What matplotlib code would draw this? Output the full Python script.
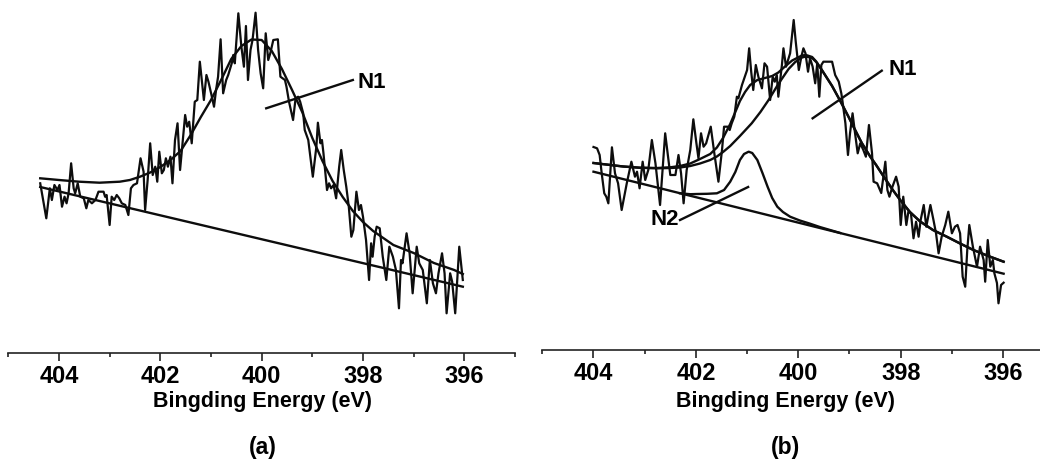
import matplotlib
matplotlib.use("Agg")
import matplotlib.pyplot as plt
from matplotlib.ticker import MultipleLocator

plt.rcParams['font.family'] = ['Liberation Sans', 'DejaVu Sans']

# ---------------- Panel (a) data (binding energy in eV, intensity in a.u.) ----------------
a_raw_E = [404.37, 404.25, 404.18, 404.14, 404.09, 404.03, 403.99, 403.94, 403.89, 403.85,
           403.81, 403.76, 403.71, 403.68, 403.63, 403.58, 403.51, 403.46, 403.42, 403.35,
           403.28, 403.22, 403.12, 403.09, 403.06, 403.00, 402.96, 402.91, 402.86, 402.81,
           402.76, 402.69, 402.63, 402.58, 402.53, 402.46, 402.39, 402.33, 402.30, 402.25,
           402.20, 402.15, 402.10, 402.06, 402.02, 401.97, 401.93, 401.89, 401.85, 401.80,
           401.76, 401.71, 401.66, 401.61, 401.51, 401.47, 401.43, 401.38, 401.32, 401.27,
           401.22, 401.14, 401.09, 401.05, 400.99, 400.94, 400.90, 400.86, 400.81, 400.76,
           400.70, 400.66, 400.59, 400.56, 400.53, 400.46, 400.40, 400.35, 400.31, 400.27,
           400.22, 400.18, 400.12, 400.07, 400.02, 399.97, 399.92, 399.87, 399.83, 399.77,
           399.68, 399.63, 399.54, 399.51, 399.46, 399.38, 399.33, 399.28, 399.24, 399.18,
           399.15, 399.08, 398.99, 398.92, 398.89, 398.84, 398.81, 398.78, 398.71, 398.67,
           398.63, 398.58, 398.53, 398.47, 398.43, 398.38, 398.33, 398.28, 398.23, 398.19,
           398.13, 398.08, 398.04, 398.00, 397.94, 397.88, 397.84, 397.81, 397.77, 397.73,
           397.67, 397.61, 397.54, 397.48, 397.41, 397.35, 397.29, 397.25, 397.22, 397.14,
           397.08, 397.02, 396.94, 396.89, 396.82, 396.74, 396.68, 396.62, 396.56, 396.51,
           396.44, 396.39, 396.35, 396.28, 396.24, 396.18, 396.10, 396.03]
a_raw_I = [169.4, 134.4, 164.4, 152.7, 167.7, 162.7, 167.7, 146.0, 156.0, 149.4,
           159.4, 189.4, 164.4, 159.4, 169.4, 156.0, 154.4, 144.4, 152.7, 149.4,
           152.7, 161.0, 161.0, 156.0, 157.7, 127.7, 156.0, 152.7, 157.7, 154.4,
           149.4, 147.7, 137.7, 164.4, 167.7, 169.4, 194.4, 181.0, 142.7, 172.7,
           209.4, 177.7, 186.0, 171.0, 201.0, 179.4, 182.7, 194.4, 186.0, 196.0,
           169.4, 212.7, 229.4, 182.7, 237.7, 226.0, 231.0, 209.4, 251.0, 252.7,
           291.0, 252.7, 277.7, 271.0, 257.7, 246.0, 262.7, 276.0, 313.4, 259.4,
           272.7, 277.7, 289.4, 297.7, 289.4, 339.4, 306.0, 286.0, 326.7, 272.7,
           302.7, 312.7, 340.0, 302.7, 279.4, 264.4, 319.4, 292.7, 299.4, 312.7,
           313.4, 276.0, 272.7, 266.0, 251.0, 232.7, 254.4, 256.0, 251.0, 239.4,
           222.7, 212.7, 176.0, 206.0, 230.0, 209.4, 212.7, 199.4, 162.7, 169.4,
           164.4, 167.7, 154.4, 186.0, 202.7, 182.7, 166.0, 146.0, 116.0, 122.7,
           161.0, 142.7, 147.7, 136.0, 112.7, 72.7, 109.4, 96.0, 116.0, 126.0,
           124.4, 96.0, 72.7, 106.0, 96.0, 82.7, 44.4, 92.7, 89.4, 119.4,
           99.4, 59.4, 106.0, 89.4, 82.7, 49.4, 92.7, 69.4, 59.4, 79.4,
           99.4, 79.4, 39.4, 79.4, 71.0, 39.4, 106.0, 72.7]

a_fit_E = [404.37, 404.0, 403.6, 403.2, 402.8, 402.6, 402.4, 402.2, 402.0, 401.8,
           401.6, 401.4, 401.2, 401.0, 400.8, 400.6, 400.4, 400.2, 400.0, 399.8,
           399.6, 399.4, 399.2, 399.0, 398.8, 398.6, 398.4, 398.2, 398.0, 397.8,
           397.6, 397.4, 397.0, 396.6, 396.2, 396.03]
a_fit_I = [174.4, 172.7, 171.0, 170.0, 171.0, 172.7, 176.0, 180.2, 185.7, 192.7,
           201.7, 217.7, 235.7, 252.7, 272.7, 293.7, 306.7, 313.2, 312.7, 301.7,
           283.7, 262.7, 240.7, 214.7, 191.7, 171.7, 155.7, 141.7, 130.7, 121.7,
           114.7, 107.7, 99.7, 89.7, 82.7, 78.7]

a_base_E = [404.37, 396.03]
a_base_I = [165.7, 66.0]

# ---------------- Panel (b) data ----------------
b_raw_E = [404.00, 403.93, 403.88, 403.84, 403.79, 403.75, 403.71, 403.64, 403.58, 403.52,
           403.45, 403.35, 403.26, 403.19, 403.15, 403.10, 403.04, 402.99, 402.93, 402.86,
           402.79, 402.70, 402.60, 402.50, 402.40, 402.34, 402.29, 402.24, 402.18, 402.11,
           402.05, 401.99, 401.95, 401.90, 401.85, 401.80, 401.71, 401.64, 401.56, 401.49,
           401.45, 401.38, 401.34, 401.30, 401.25, 401.20, 401.17, 401.10, 401.00, 400.96,
           400.92, 400.88, 400.83, 400.78, 400.71, 400.66, 400.61, 400.58, 400.55, 400.50,
           400.46, 400.42, 400.39, 400.32, 400.29, 400.24, 400.20, 400.16, 400.09, 400.05,
           399.99, 399.94, 399.90, 399.86, 399.81, 399.77, 399.72, 399.67, 399.63, 399.59,
           399.55, 399.51, 399.46, 399.34, 399.28, 399.21, 399.16, 399.14, 399.08, 399.03,
           398.99, 398.94, 398.90, 398.84, 398.79, 398.73, 398.68, 398.62, 398.56, 398.53,
           398.46, 398.38, 398.30, 398.26, 398.22, 398.17, 398.09, 398.04, 398.00, 397.95,
           397.89, 397.85, 397.80, 397.75, 397.70, 397.65, 397.61, 397.55, 397.50, 397.42,
           397.36, 397.31, 397.26, 397.20, 397.13, 397.07, 397.00, 396.94, 396.89, 396.84,
           396.79, 396.74, 396.70, 396.66, 396.59, 396.51, 396.45, 396.38, 396.35, 396.30,
           396.25, 396.20, 396.17, 396.12, 396.09, 396.04, 395.99]
b_raw_I = [203.0, 201.7, 195.0, 176.7, 156.7, 153.3, 146.7, 202.7, 176.7, 166.7,
           140.0, 166.7, 188.3, 173.3, 178.3, 161.7, 188.3, 170.0, 180.0, 210.0,
           186.7, 145.0, 216.7, 175.0, 175.0, 195.0, 176.7, 146.7, 180.0, 200.0,
           230.7, 206.7, 191.7, 216.7, 203.3, 206.7, 223.3, 196.7, 168.3, 200.0,
           223.3, 223.3, 220.0, 226.7, 233.3, 253.3, 251.7, 265.0, 280.0, 301.7,
           278.3, 260.0, 285.0, 273.3, 261.7, 286.7, 283.3, 266.7, 250.0, 273.3,
           268.3, 275.0, 253.3, 285.0, 301.7, 283.3, 290.0, 296.7, 330.0, 308.3,
           280.0, 293.3, 301.7, 296.7, 278.3, 291.7, 283.3, 266.7, 286.7, 253.3,
           285.0, 288.3, 288.3, 288.3, 275.0, 268.3, 256.7, 250.0, 226.7, 195.0,
           216.7, 236.7, 220.0, 196.7, 206.7, 200.0, 193.3, 225.0, 196.7, 168.3,
           166.7, 157.0, 188.3, 160.0, 153.3, 162.0, 173.3, 163.3, 125.0, 153.3,
           125.0, 138.3, 136.7, 111.7, 128.3, 113.3, 130.0, 145.0, 123.3, 145.0,
           130.0, 116.7, 96.7, 113.3, 125.0, 138.3, 116.7, 123.3, 125.0, 116.7,
           73.3, 63.3, 100.0, 125.0, 103.3, 83.3, 103.3, 90.0, 68.3, 110.0,
           83.3, 90.0, 76.7, 67.0, 46.7, 65.0, 67.3]

b_fit_E = [404.00, 403.67, 403.42, 403.09, 402.76, 402.50, 402.31, 402.11, 401.92, 401.72,
           401.59, 401.47, 401.33, 401.23, 401.14, 401.04, 400.94, 400.80, 400.65, 400.51,
           400.39, 400.26, 400.12, 399.93, 399.85, 399.73, 399.65, 399.54, 399.34, 399.18,
           399.02, 398.89, 398.76, 398.59, 398.48, 398.34, 398.14, 398.01, 397.82, 397.62,
           397.37, 397.10, 396.84, 396.58, 396.29, 395.99]
b_fit_I = [187.0, 185.0, 183.5, 182.3, 182.0, 182.7, 184.0, 186.5, 191.0, 196.0,
           202.5, 212.0, 226.0, 238.0, 249.0, 258.0, 265.0, 270.0, 272.0, 274.0,
           277.5, 283.5, 289.5, 294.5, 295.0, 293.0, 288.5, 280.0, 264.0, 249.0,
           233.3, 220.0, 207.0, 193.0, 185.0, 174.0, 159.0, 150.0, 138.0, 128.5,
           120.0, 113.3, 106.5, 100.0, 94.0, 88.3]

b_n1_E = [404.00, 403.67, 403.42, 403.09, 402.76, 402.50, 402.31, 402.11, 401.92, 401.72,
          401.59, 401.47, 401.33, 401.14, 400.91, 400.74, 400.58, 400.39, 400.19, 400.06,
          399.93, 399.85, 399.73, 399.65, 399.54, 399.34, 399.18, 399.02, 398.89, 398.76,
          398.59, 398.48, 398.34, 398.14, 398.01, 397.82, 397.62, 397.37, 397.10, 396.84,
          396.58, 396.29, 395.99]
b_n1_I = [187.0, 185.0, 183.5, 182.2, 181.7, 182.0, 182.5, 184.0, 186.5, 190.0,
          193.5, 198.0, 204.0, 214.0, 226.7, 238.0, 250.0, 266.0, 281.0, 288.0,
          292.5, 293.5, 292.0, 288.0, 280.0, 264.0, 249.0, 233.3, 220.0, 207.0,
          193.0, 185.0, 174.0, 159.0, 150.0, 138.0, 128.5, 120.0, 113.3, 106.5,
          100.0, 94.0, 88.3]

b_n2_E = [402.31, 402.11, 401.98, 401.78, 401.59, 401.45, 401.33, 401.23, 401.14, 401.06,
          400.97, 400.90, 400.80, 400.70, 400.60, 400.51, 400.41, 400.30, 400.16, 399.97,
          399.77, 399.58, 399.38, 399.18]
b_n2_I = [156.7, 155.8, 156.0, 156.2, 156.7, 160.0, 168.3, 178.0, 190.0, 196.0,
          198.3, 197.0, 190.0, 177.0, 163.3, 152.0, 143.3, 138.0, 133.3, 129.5,
          126.3, 123.0, 120.0, 117.0]

b_base_E = [404.00, 395.99]
b_base_I = [178.3, 76.3]

# labels / leader lines (data coordinates)
a_n1_line_E = [399.91, 398.20]
a_n1_line_I = [244.4, 272.7]
a_n1_text = (398.10, 269.7)
b_n1_line_E = [399.72, 398.37]
b_n1_line_I = [231.7, 279.3]
b_n1_text = (398.24, 280.5)
b_n2_line_E = [402.31, 400.98]
b_n2_line_I = [130.0, 163.0]
b_n2_text = (402.33, 130.0)

major_ticks = [404, 402, 400, 398, 396]
tick_labels = ['404', '402', '400', '398', '396']
xlabel = 'Bingding Energy (eV)'

W, H = 1040, 471
fig = plt.figure(figsize=(W / 100, H / 100), dpi=100)

ax_a = fig.add_axes([8.3 / W, 1 - 352.7 / H, 506.7 / W, 352.7 / H])
ax_b = fig.add_axes([542.3 / W, 1 - 350.0 / H, 512.0 / W, 350.0 / H])

ink = '#0d0d0d'

def style(ax, ytop):
    ax.set_xlim(405, 395)
    ax.set_ylim(0, ytop)
    for s in ['left', 'right', 'top']:
        ax.spines[s].set_visible(False)
    ax.spines['bottom'].set_linewidth(1.2)
    ax.spines['bottom'].set_color('#222222')
    ax.set_yticks([])
    ax.set_xticks(major_ticks)
    ax.set_xticklabels(tick_labels, fontsize=17, fontweight='bold')
    ax.xaxis.set_minor_locator(MultipleLocator(1))
    ax.tick_params(axis='x', which='major', length=5.5, width=1.2, pad=3.5, colors='#222222', labelcolor='black')
    ax.tick_params(axis='x', which='minor', length=3, width=1.2, colors='#222222')
    ax.patch.set_alpha(0)

style(ax_a, 352.7)
style(ax_b, 350.0)

raw_lw = 1.6
fit_lw = 1.7

# panel a
ax_a.plot(a_raw_E, a_raw_I, color=ink, lw=raw_lw)
ax_a.plot(a_fit_E, a_fit_I, color=ink, lw=fit_lw)
ax_a.plot(a_base_E, a_base_I, color=ink, lw=fit_lw)
ax_a.plot(a_n1_line_E, a_n1_line_I, color=ink, lw=fit_lw)
ax_a.text(a_n1_text[0], a_n1_text[1], 'N1', fontsize=16, fontweight='bold', ha='left', va='center')

# panel b
ax_b.plot(b_raw_E, b_raw_I, color=ink, lw=raw_lw)
ax_b.plot(b_fit_E, b_fit_I, color=ink, lw=fit_lw)
ax_b.plot(b_n1_E, b_n1_I, color=ink, lw=fit_lw)
ax_b.plot(b_n2_E, b_n2_I, color=ink, lw=fit_lw)
ax_b.plot(b_base_E, b_base_I, color=ink, lw=fit_lw)
ax_b.plot(b_n1_line_E, b_n1_line_I, color=ink, lw=fit_lw)
ax_b.plot(b_n2_line_E, b_n2_line_I, color=ink, lw=fit_lw)
ax_b.text(b_n1_text[0], b_n1_text[1], 'N1', fontsize=16, fontweight='bold', ha='left', va='center')
ax_b.text(b_n2_text[0], b_n2_text[1], 'N2', fontsize=16, fontweight='bold', ha='right', va='center')

# axis titles and panel letters
fig.text(262.5 / W, 1 - 407 / H, xlabel, fontsize=15.5, fontweight='bold', ha='center', va='baseline')
fig.text(786 / W, 1 - 407 / H, xlabel, fontsize=15.5, fontweight='bold', ha='center', va='baseline')
fig.text(262.5 / W, 1 - 447.5 / H, '(a)', fontsize=16.5, fontweight='bold', ha='center', va='center')
fig.text(786 / W, 1 - 447.5 / H, '(b)', fontsize=16.5, fontweight='bold', ha='center', va='center')

fig.savefig('out.png', dpi=100, facecolor='white')
